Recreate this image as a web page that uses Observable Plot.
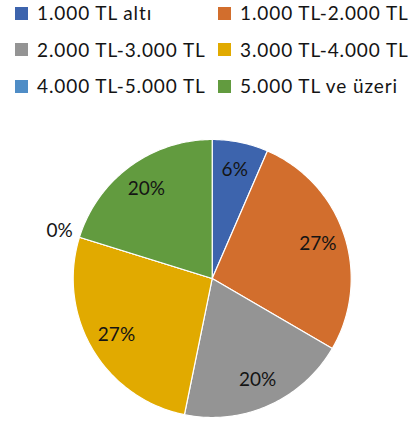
<!DOCTYPE html>
<html>
<head>
<meta charset="utf-8">
<script src="https://cdn.jsdelivr.net/npm/d3@7"></script>
<script src="https://cdn.jsdelivr.net/npm/@observablehq/plot@0.6"></script>
<style>
  html, body { margin: 0; padding: 0; background: #fff; }
  #legend { position: relative; width: 413px; height: 100px; font-family: Lato, "Open Sans", sans-serif; font-size: 19px; color: #141414; letter-spacing: 0.9px; }
  .item { position: absolute; height: 20px; line-height: 20px; white-space: nowrap; }
  .sw { position: absolute; left: 0; top: 3.5px; width: 13px; height: 13px; }
  .lab { position: absolute; left: 22px; top: 0; }
  #chart svg { display: block; }
</style>
</head>
<body>
<div id="legend"></div>
<div id="chart"></div>
<script>
const categories = ["1.000 TL altı", "1.000 TL-2.000 TL", "2.000 TL-3.000 TL", "3.000 TL-4.000 TL", "4.000 TL-5.000 TL", "5.000 TL ve üzeri"];
const shares = [6.5, 26.9, 19.8, 26.6, 0, 20.2];
const pctLabels = ["6%", "27%", "20%", "27%", "0%", "20%"];
const colors = ["#3D64AD", "#D26E2D", "#949494", "#E1AA00", "#4F8DC6", "#629B3F"];

// Legend (HTML, above the SVG)
const legend = document.getElementById("legend");
categories.forEach((c, i) => {
  const col = i % 2, row = Math.floor(i / 2);
  const it = document.createElement("div");
  it.className = "item";
  it.style.left = (col === 0 ? 15 : 218) + "px";
  it.style.top = (3 + row * 36.5) + "px";
  const sw = document.createElement("div");
  sw.className = "sw";
  sw.style.background = colors[i];
  const lb = document.createElement("div");
  lb.className = "lab";
  lb.textContent = c;
  it.appendChild(sw); it.appendChild(lb);
  legend.appendChild(it);
});

// Pie geometry via d3.pie, drawn with Plot marks
const arcs = d3.pie().sort(null).startAngle(0).endAngle(2 * Math.PI)(shares);
const points = [];
arcs.forEach((a, i) => {
  const cat = categories[i];
  points.push({cat, x: 0, y: 0});
  const n = Math.max(2, Math.ceil((a.endAngle - a.startAngle) / (Math.PI / 180)));
  for (let k = 0; k <= n; k++) {
    const t = a.startAngle + (a.endAngle - a.startAngle) * k / n;
    points.push({cat, x: Math.sin(t), y: Math.cos(t)});
  }
});
const labelData = arcs.map((a, i) => {
  const m = (a.startAngle + a.endAngle) / 2;
  const r = shares[i] === 0 ? 1.15 : 0.8;
  return {x: r * Math.sin(m), y: r * Math.cos(m), text: pctLabels[i]};
});

const svg = Plot.plot({
  width: 413,
  height: 325,
  marginLeft: 72.7,
  marginRight: 62.3,
  marginTop: 39,
  marginBottom: 8,
  x: {domain: [-1, 1], axis: null},
  y: {domain: [-1, 1], axis: null},
  color: {domain: categories, range: colors},
  marks: [
    Plot.line(points, {x: "x", y: "y", z: "cat", fill: "cat", stroke: "white", strokeWidth: 1.2, curve: "linear-closed"}),
    Plot.text(labelData, {x: "x", y: "y", text: "text", fontSize: 19, fill: "#141414", fontFamily: "Lato, 'Open Sans', sans-serif", letterSpacing: 0.8})
  ]
});
document.getElementById("chart").appendChild(svg);
</script>
</body>
</html>
